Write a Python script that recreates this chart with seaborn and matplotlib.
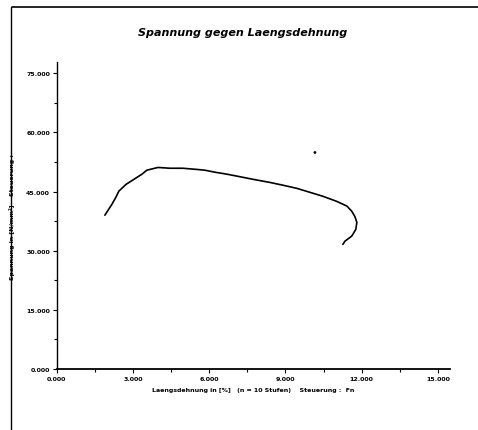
import seaborn as sns
import matplotlib.pyplot as plt
import pandas as pd
from matplotlib.lines import Line2D
from matplotlib.ticker import MultipleLocator, FormatStrFormatter

dehnung = [1.89, 2.17, 2.32, 2.44, 2.72, 3.35, 3.54, 3.98, 4.45, 4.96, 5.51, 5.83,
           6.22, 6.69, 7.09, 7.72, 8.39, 8.90, 9.45, 9.96, 10.47, 11.02, 11.42,
           11.61, 11.73, 11.81, 11.77, 11.61, 11.34, 11.26]
spannung = [39.0, 41.8, 43.5, 45.1, 46.8, 49.4, 50.4, 51.1, 50.9, 50.9, 50.6, 50.4,
            49.9, 49.4, 48.9, 48.1, 47.3, 46.6, 45.8, 44.8, 43.8, 42.5, 41.3,
            40.0, 38.7, 37.2, 35.4, 33.7, 32.4, 31.6]
# einzelner Ausreisser
ausreisser_x = [10.16]
ausreisser_y = [54.9]

x_ticks = [0, 3, 6, 9, 12, 15]
y_ticks = [0, 15, 30, 45, 60, 75]

df = pd.DataFrame({"dehnung": dehnung, "spannung": spannung})

sns.set_style("ticks")
plt.rcParams.update({"text.color": "black", "axes.labelcolor": "black",
                     "xtick.color": "black", "ytick.color": "black",
                     "axes.edgecolor": "black"})
fig = plt.figure(figsize=(4.78, 4.31), dpi=100)
ax = fig.add_axes([0.119, 0.1415, 0.822, 0.712])

sns.lineplot(data=df, x="dehnung", y="spannung", sort=False, estimator=None,
             color="black", linewidth=1.2, ax=ax)
sns.scatterplot(x=ausreisser_x, y=ausreisser_y, color="black", s=4,
                edgecolor="none", ax=ax)

ax.set_xlim(0, 15.47)
ax.set_ylim(0, 77.8)
ax.set_xticks(x_ticks)
ax.set_yticks(y_ticks)
ax.xaxis.set_minor_locator(MultipleLocator(1.5))
ax.yaxis.set_minor_locator(MultipleLocator(7.5))
ax.xaxis.set_major_formatter(FormatStrFormatter("%.3f"))
ax.yaxis.set_major_formatter(FormatStrFormatter("%.3f"))
ax.tick_params(which="major", length=3, width=0.8, labelsize=4.5, pad=2)
ax.tick_params(which="minor", length=2, width=0.8)
for lab in ax.get_xticklabels() + ax.get_yticklabels():
    lab.set_fontweight("bold")

sns.despine(ax=ax)
ax.spines["left"].set_linewidth(1.0)
ax.spines["bottom"].set_linewidth(1.3)

ax.set_xlabel("Laengsdehnung in [%]   (n = 10 Stufen)    Steuerung :  Fn",
              fontsize=4.5, fontweight="bold", labelpad=4)
ax.set_ylabel("Spannung in [N/mm²]    Steuerung :",
              fontsize=4.5, fontweight="bold", labelpad=8)

fig.text(0.507, 0.923, "Spannung gegen Laengsdehnung", ha="center", va="center",
         fontsize=8, style="italic", fontweight="bold")

# Rahmen des Scans
fig.add_artist(Line2D([0.025, 1.0], [0.981, 0.981], color="black", linewidth=1.2))
fig.add_artist(Line2D([0.024, 0.024], [0.0, 0.981], color="black", linewidth=1.0))

fig.savefig("out.png", dpi=100)
